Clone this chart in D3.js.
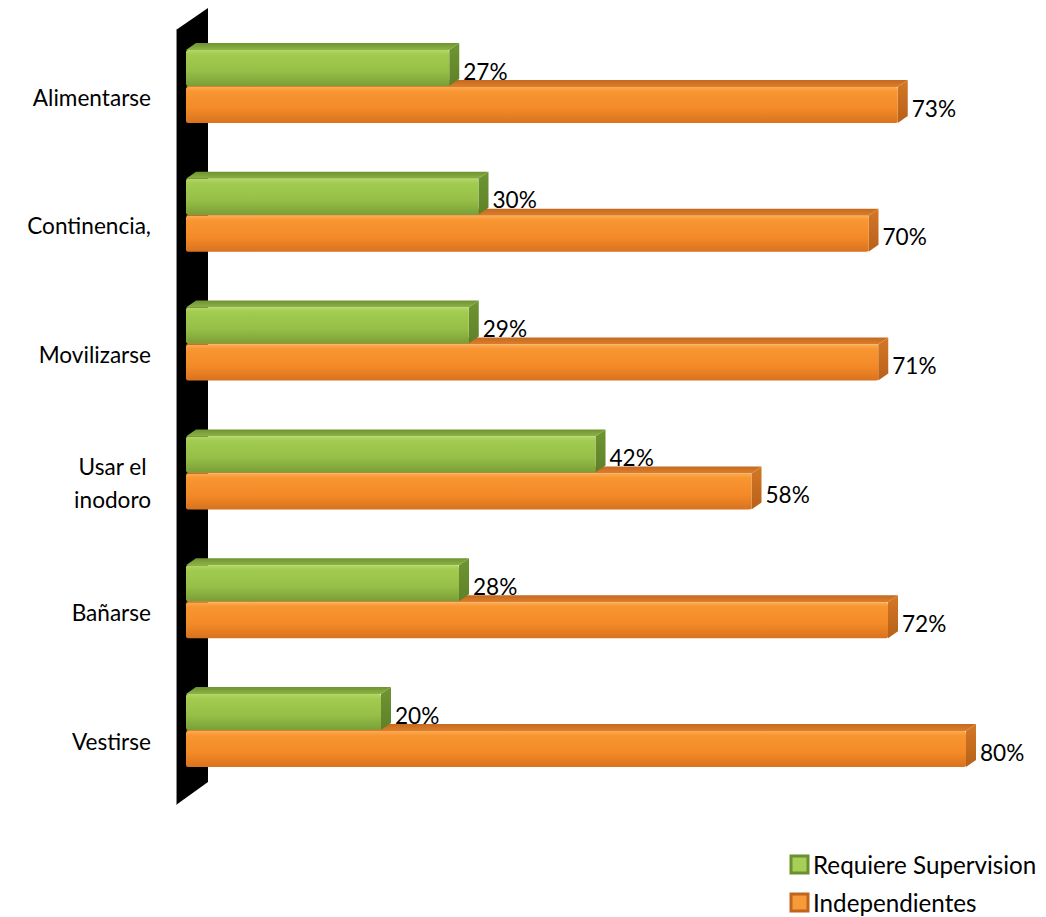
<!DOCTYPE html>
<html><head><meta charset="utf-8">
<script src="https://cdn.jsdelivr.net/npm/d3@7"></script>
<style>body{margin:0;background:#fff}svg{display:block}text{font-family:Lato,"Open Sans",sans-serif;fill:#000}</style>
</head><body>
<svg id="c" width="1046" height="917"></svg>
<script>
const categories = ["Alimentarse", "Continencia,", "Movilizarse", "Usar el\ninodoro", "Bañarse", "Vestirse"];
const seriesNames = ["Requiere Supervision", "Independientes"];
const supervision = [27, 30, 29, 42, 28, 20];
const independientes = [73, 70, 71, 58, 72, 80];
const valueLabels = [supervision.map(v => v + "%"), independientes.map(v => v + "%")];

const svg = d3.select("#c");
const FS = 22.6, LFS = 24.2;
const x = d3.scaleLinear().domain([0, 80]).range([186, 966]);
const y = d3.scaleBand().domain(categories).range([33, 33 + 6 * 128.8]).paddingInner(0).paddingOuter(0);
const ys = d3.scaleBand().domain(seriesNames).range([17, 91]).paddingInner(0.0);
const barH = 36, dx = 10, dy = 7;

const defs = svg.append("defs");
function grad(id, stops) {
  const g = defs.append("linearGradient").attr("id", id).attr("x1", 0).attr("y1", 0).attr("x2", 0).attr("y2", 1);
  stops.forEach(s => g.append("stop").attr("offset", s[0]).attr("stop-color", s[1]));
}
grad("gFront", [[0, "#b3d866"], [0.12, "#a2cb50"], [0.6, "#95bf47"], [1, "#7a9f36"]]);
grad("oFront", [[0, "#fcac52"], [0.12, "#f89632"], [0.6, "#f38a27"], [1, "#d9721f"]]);
grad("gTop", [[0, "#6f9330"], [1, "#8cb346"]]);
grad("oTop", [[0, "#c4691f"], [1, "#dd7f2c"]]);
grad("gSide", [[0, "#6f9532"], [1, "#5e8128"]]);
grad("oSide", [[0, "#d47826"], [1, "#b8601a"]]);

const colors = {
  "Requiere Supervision": {front: "url(#gFront)", top: "url(#gTop)", side: "url(#gSide)", sw: "#a5cf57", sw2: "#6c8f2f"},
  "Independientes": {front: "url(#oFront)", top: "url(#oTop)", side: "url(#oSide)", sw: "#f79a3a", sw2: "#c0651c"}
};

// wall
svg.append("polygon").attr("points", [[176, 30], [208, 8], [208, 782], [176, 805]].map(p => p.join(",")).join(" "))
  .attr("fill", "#000");
svg.append("line").attr("x1", 176.5).attr("x2", 176.5).attr("y1", 30).attr("y2", 805).attr("stroke", "#888").attr("stroke-width", 1);

const data = [];
categories.forEach((c, i) => {
  data.push({c, s: seriesNames[1], v: independientes[i], label: valueLabels[1][i]});
  data.push({c, s: seriesNames[0], v: supervision[i], label: valueLabels[0][i]});
});

const bars = svg.append("g");
data.forEach(d => {
  const x0 = x(0), x1 = x(d.v);
  const yt = y(d.c) + ys(d.s);
  const col = colors[d.s];
  const g = bars.append("g");
  g.append("polygon").attr("points", [[x0, yt], [x0 + dx, yt - dy], [x1 + dx, yt - dy], [x1, yt]].map(p => p.join(",")).join(" "))
    .attr("fill", col.top);
  g.append("polygon").attr("points", [[x1, yt], [x1 + dx, yt - dy], [x1 + dx, yt + barH - dy], [x1, yt + barH]].map(p => p.join(",")).join(" "))
    .attr("fill", col.side);
  g.append("rect").attr("x", x0).attr("y", yt).attr("width", x1 - x0).attr("height", barH)
    .attr("rx", 2).attr("fill", col.front);
  g.append("text").attr("x", x1 + dx + 4).attr("y", yt + barH / 2 + 3)
    .attr("dominant-baseline", "central").attr("font-size", FS).text(d.label);
});

// category labels
categories.forEach(c => {
  const lines = c.split("\n");
  const cy = y(c) + 64;
  const g = svg.append("g");
  const lh = 33;
  const ts = lines.map((ln, k) => g.append("text").attr("font-size", FS).attr("dominant-baseline", "central")
    .attr("y", cy + (k - (lines.length - 1) / 2) * lh).text(ln));
  const widths = ts.map(t => t.node().getComputedTextLength());
  const maxW = d3.max(widths);
  const right = 151;
  ts.forEach((t, k) => t.attr("x", right - maxW / 2 - widths[k] / 2));
});

// legend
const leg = svg.append("g");
seriesNames.forEach((s, i) => {
  const ly = 864 + i * 38;
  const col = colors[s];
  leg.append("rect").attr("x", 791).attr("y", ly - 8).attr("width", 17).attr("height", 17)
    .attr("fill", col.sw).attr("stroke", col.sw2).attr("stroke-width", 3);
  leg.append("text").attr("x", 813).attr("y", ly).attr("dominant-baseline", "central")
    .attr("font-size", LFS).text(s);
});
</script>
</body></html>
